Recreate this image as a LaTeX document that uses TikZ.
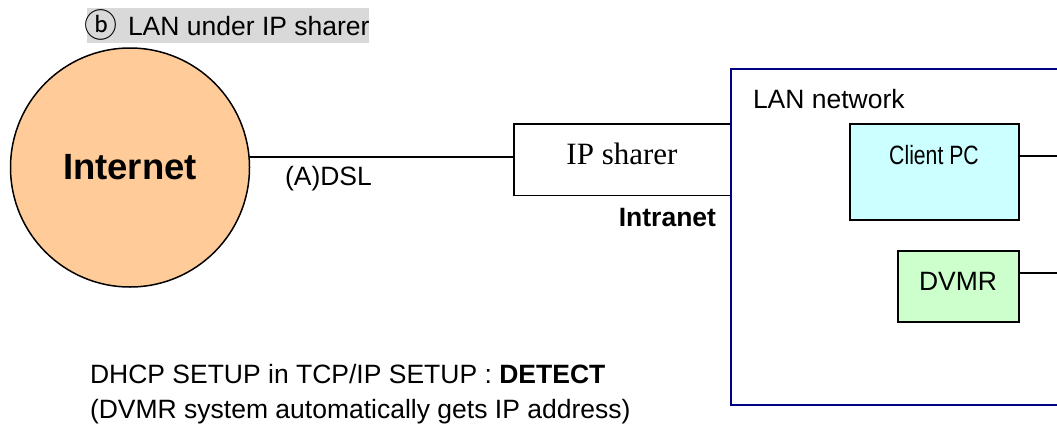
\documentclass[tikz,border=0pt]{standalone}
\usepackage{fontspec}
\setmainfont{Liberation Sans}
\newfontfamily\serifA{Liberation Serif}
\newfontfamily\narrowA[FakeStretch=0.8]{Liberation Sans}
\newfontfamily\symA{Noto Sans CJK SC}
\definecolor{inetfill}{RGB}{255,204,153}
\definecolor{pcfill}{RGB}{204,255,255}
\definecolor{dvfill}{RGB}{204,255,204}
\definecolor{lanblue}{RGB}{0,0,128}
\definecolor{titlegray}{RGB}{217,217,217}
\tikzset{
  txt/.style={font=\fontsize{26.5}{32}\selectfont, inner sep=0pt, outer sep=0pt},
  boxA/.style={draw=black, line width=1.5pt, inner sep=0pt, outer sep=0pt},
  wire/.style={draw=black, line width=1.5pt},
  lanbox/.style={draw=lanblue, line width=2pt, inner sep=0pt, outer sep=0pt, anchor=north west}
}
\begin{document}
\begin{tikzpicture}[x=1pt,y=-1pt]
\useasboundingbox (0,0) rectangle (1057,426);
\clip (0,0) rectangle (1057,426);
% title
\fill[titlegray] (87,8) rectangle (369,43);
\node[txt, anchor=center, font=\symA\fontsize{33}{36}\selectfont] (tb) at (100.5,25) {ⓑ};
\node[txt, anchor=base west] (title) at (128,35) {LAN under IP sharer};
% internet
\node[boxA, circle, fill=inetfill, minimum size=239pt, font=\bfseries\fontsize{36.5}{40}\selectfont] (inet) at (130,167.5) {Internet};
% IP sharer
\node[boxA, minimum width=217pt, minimum height=71.5pt] (ip) at (622.5,159.8) {};
\node[txt, anchor=base, font=\serifA\fontsize{31}{36}\selectfont] (iptext) at (622,164) {IP sharer};
\draw[wire] (inet.5.5) -- (inet.5.5 -| ip.west);
\node[txt, anchor=base west] (dsl) at (285,185) {(A)DSL};
\node[txt, anchor=base east, font=\bfseries\fontsize{26.5}{32}\selectfont] (intra) at (716,226) {Intranet};
% LAN
\node[lanbox, minimum width=340pt, minimum height=336pt] (lan) at (731,69) {};
\node[txt, anchor=base west] (lantext) at (753,108) {LAN network};
% Client PC
\node[boxA, fill=pcfill, minimum width=169pt, minimum height=96pt] (pc) at (934.5,172) {};
\node[txt, anchor=base, font=\narrowA\fontsize{26.5}{32}\selectfont] (pctext) at (934,164) {Client PC};
\coordinate (pcout) at (1070,156);
\draw[wire] (pcout -| pc.east) -- (pcout);
% DVMR
\node[boxA, fill=dvfill, minimum width=121pt, minimum height=71pt] (dv) at (958.5,286.5) {};
\node[txt, anchor=base] (dvtext) at (958,290) {DVMR};
\coordinate (dvout) at (1070,273);
\draw[wire] (dvout -| dv.east) -- (dvout);
% bottom notes
\node[txt, anchor=base west] (note1) at (90,383) {DHCP SETUP in TCP/IP SETUP : \textbf{DETECT}};
\node[txt, anchor=base west] (note2) at (90,418) {(DVMR system automatically gets IP address)};
\end{tikzpicture}
\end{document}
